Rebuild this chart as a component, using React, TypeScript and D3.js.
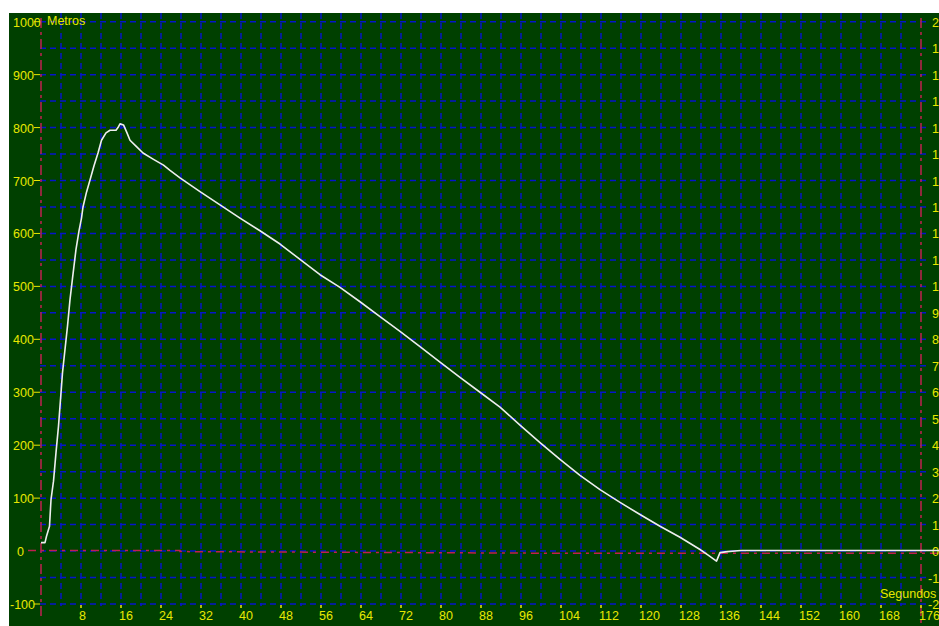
import React from 'react';
import * as d3 from 'd3';

// altitude (Metros) over time (Segundos)
const times = [0, 0.8, 1.1, 1.7, 2, 2.5, 3, 3.5, 3.9, 4.3, 4.8, 5.3, 5.8, 6.3, 7, 7.6, 8.1, 8.4, 9.1, 9.8, 10.6, 11.4, 12.1, 13, 13.8, 15, 15.4, 15.8, 16.5, 17.2, 17.8, 19.1, 20.4, 22.5, 24.5, 25.8, 27.8, 31.8, 35.8, 39.8, 43.8, 47.8, 51.8, 55.8, 59.8, 63.8, 67.8, 71.8, 75.8, 79.8, 83.8, 87.8, 91.8, 95.8, 99.8, 103.8, 107.8, 111.8, 115.8, 119.8, 123.8, 127.8, 131.8, 133.5, 135.1, 135.8, 137.2, 140, 150, 160, 170, 180];
const metros = [16, 16, 28, 47, 97, 132, 186, 236, 286, 337, 381, 425, 475, 515, 570, 605, 629, 650, 678, 701, 728, 752, 776, 790, 795, 795, 800, 807, 805, 790, 776, 764, 752, 740, 729, 719, 705, 679, 654, 629, 605, 580, 551, 522, 498, 471, 443, 415, 386, 357, 328, 300, 272, 238, 205, 173, 143, 116, 92, 69, 47, 26, 3, -8, -19, -3, -1, 1, 1, 1, 1, 1];

// red dash-dot reference line near zero
const refTimes = [-2.6, 27.8, 27.8, 100, 180];
const refValues = [1, 1, -1, -4, -4];

const leftTicks = [1000, 900, 800, 700, 600, 500, 400, 300, 200, 100, 0, -100];
const rightTicks = d3.range(-2, 21);
const xTicks = d3.range(8, 177, 8);

const YELLOW = '#e8e800';
const RED = '#c02050';
const BLUE = '#0614cc';
const FONT = 'Liberation Sans, Arial, sans-serif';

export default function App() {
  const x = d3.scaleLinear().domain([0, 176]).range([41, 921]);
  const y = d3.scaleLinear().domain([-100, 1000]).range([604, 21.7]);
  const yRight = d3.scaleLinear().domain([-2, 20]).range([604, 21.7]);

  const line = d3.line<number>()
    .x((_, i) => x(times[i]))
    .y(d => y(d));
  const refLine = d3.line<number>()
    .x((_, i) => x(refTimes[i]))
    .y(d => y(d));

  const hGrid = d3.range(-100, 1001, 50);
  const vGrid = d3.range(4, 176, 4);

  return (
    <svg width={939} height={626} style={{ display: 'block', position: 'absolute', left: 0, top: 0 }}>
      <rect x={9} y={13} width={930} height={613} fill="#004000" />

      {hGrid.map(v => (
        <line key={'h' + v} x1={40} x2={928} y1={y(v)} y2={y(v)}
          stroke={BLUE} strokeWidth={1.5} strokeDasharray="6,4" />
      ))}
      {vGrid.map(t => (
        <line key={'v' + t} x1={x(t)} x2={x(t)} y1={13} y2={606}
          stroke={BLUE} strokeWidth={1.5} strokeDasharray="6,4" />
      ))}

      {/* red axis lines */}
      <line x1={x(0)} x2={x(0)} y1={18} y2={616} stroke={RED} strokeWidth={1.5} strokeDasharray="10,4,3,4" />
      <line x1={x(176)} x2={x(176)} y1={18} y2={626} stroke={RED} strokeWidth={1.5} strokeDasharray="10,4,3,4" />
      <path d={refLine(refValues) ?? ''} fill="none" stroke={RED} strokeWidth={1.5} strokeDasharray="8,5,3,5" />

      {/* left axis */}
      {leftTicks.map(v => {
        const lx = v < 0 ? 10 : v === 0 ? 17 : 13;
        return (
          <g key={'l' + v}>
            {v !== 0 && <line x1={34} x2={40} y1={y(v)} y2={y(v)} stroke={YELLOW} strokeWidth={1} />}
            <text x={lx} y={y(v) + 5} fill={YELLOW} fontSize={12.5} fontFamily={FONT}>{v}</text>
          </g>
        );
      })}
      <text x={47} y={25} fill={YELLOW} fontSize={12.5} fontFamily={FONT}>Metros</text>

      {/* right axis, mostly cut off by the window edge */}
      {rightTicks.map(v => (
        <text key={'r' + v} x={v < 0 ? 928 : 932} y={yRight(v) + 5} fill={YELLOW} fontSize={12.5} fontFamily={FONT}>{v}</text>
      ))}

      {/* bottom axis */}
      {xTicks.map(t => (
        <g key={'x' + t}>
          <line x1={x(t)} x2={x(t)} y1={605} y2={608} stroke={YELLOW} strokeWidth={1.5} />
          <text x={x(t) - 2} y={620} fill={YELLOW} fontSize={12.5} fontFamily={FONT}>{t}</text>
        </g>
      ))}
      <text x={880} y={598} fill={YELLOW} fontSize={12.5} fontFamily={FONT}>Segundos</text>

      <path d={line(metros) ?? ''} fill="none" stroke="#eeeeee" strokeWidth={1.6} strokeLinejoin="round" />
    </svg>
  );
}
